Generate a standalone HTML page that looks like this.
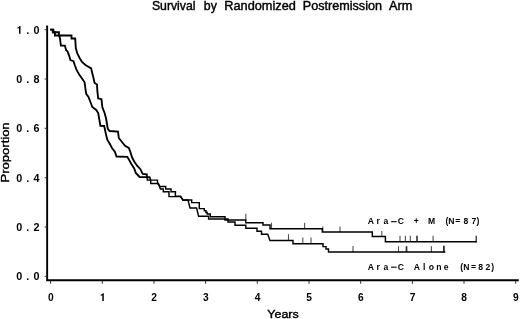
<!DOCTYPE html>
<html><head><meta charset="utf-8"><title>Survival by Randomized Postremission Arm</title>
<style>html,body{margin:0;padding:0;background:#fff;}svg{display:block;}text{font-family:"Liberation Sans",sans-serif;fill:#000;}</style></head><body>
<svg width="520" height="319" viewBox="0 0 520 319" style="will-change:transform">
<rect width="520" height="319" fill="#fff"/>
<text x="151.9" y="9.5" font-size="12.2" textLength="43.6" lengthAdjust="spacingAndGlyphs" stroke="#000" stroke-width="0.4">Survival</text>
<text x="203.8" y="9.5" font-size="12.2" textLength="13.0" lengthAdjust="spacingAndGlyphs" stroke="#000" stroke-width="0.4">by</text>
<text x="224.3" y="9.5" font-size="12.2" textLength="71.6" lengthAdjust="spacingAndGlyphs" stroke="#000" stroke-width="0.4">Randomized</text>
<text x="302.8" y="9.5" font-size="12.2" textLength="79.2" lengthAdjust="spacingAndGlyphs" stroke="#000" stroke-width="0.4">Postremission</text>
<text x="389.1" y="9.5" font-size="12.2" textLength="23.4" lengthAdjust="spacingAndGlyphs" stroke="#000" stroke-width="0.4">Arm</text>
<text transform="translate(8.8,182.4) rotate(-90)" font-size="11.8" textLength="60" lengthAdjust="spacingAndGlyphs" stroke="#000" stroke-width="0.4">Proportion</text>
<text x="267.3" y="317.5" font-size="11.8" textLength="31.4" lengthAdjust="spacingAndGlyphs" stroke="#000" stroke-width="0.4">Years</text>
<path d="M47.15 25.5 V280.3 H518.8" fill="none" stroke="#000" stroke-width="1.9" stroke-linejoin="miter"/>
<path d="M44.6 276.3 H46.4" stroke="#333" stroke-width="1"/>
<text x="19.2 27.7 36.5" y="280.3" font-size="10.8" font-weight="bold" text-anchor="middle">0.0</text>
<path d="M44.6 227.0 H46.4" stroke="#333" stroke-width="1"/>
<text x="19.2 27.7 36.5" y="231.0" font-size="10.8" font-weight="bold" text-anchor="middle">0.2</text>
<path d="M44.6 177.7 H46.4" stroke="#333" stroke-width="1"/>
<text x="19.2 27.7 36.5" y="181.7" font-size="10.8" font-weight="bold" text-anchor="middle">0.4</text>
<path d="M44.6 128.3 H46.4" stroke="#333" stroke-width="1"/>
<text x="19.2 27.7 36.5" y="132.3" font-size="10.8" font-weight="bold" text-anchor="middle">0.6</text>
<path d="M44.6 79.0 H46.4" stroke="#333" stroke-width="1"/>
<text x="19.2 27.7 36.5" y="83.0" font-size="10.8" font-weight="bold" text-anchor="middle">0.8</text>
<path d="M44.6 29.7 H46.4" stroke="#333" stroke-width="1"/>
<path d="M20.50 33.70 H19.00 V27.95 L17.50 28.65 V27.50 Q18.70 27.05 19.45 25.95 H20.50 Z" fill="#000"/>
<text x="27.7 36.5" y="33.7" font-size="10.8" font-weight="bold" text-anchor="middle">.0</text>
<path d="M50.6 281 V283.8" stroke="#333" stroke-width="1"/>
<text x="50.8" y="300.9" font-size="10.2" font-weight="bold" text-anchor="middle">0</text>
<path d="M102.3 281 V283.8" stroke="#333" stroke-width="1"/>
<path d="M103.80 300.90 H102.30 V295.30 L100.80 296.00 V294.85 Q102.00 294.40 102.75 293.30 H103.80 Z" fill="#000"/>
<path d="M154.0 281 V283.8" stroke="#333" stroke-width="1"/>
<text x="154.2" y="300.9" font-size="10.2" font-weight="bold" text-anchor="middle">2</text>
<path d="M205.6 281 V283.8" stroke="#333" stroke-width="1"/>
<text x="205.8" y="300.9" font-size="10.2" font-weight="bold" text-anchor="middle">3</text>
<path d="M257.3 281 V283.8" stroke="#333" stroke-width="1"/>
<text x="257.5" y="300.9" font-size="10.2" font-weight="bold" text-anchor="middle">4</text>
<path d="M309.0 281 V283.8" stroke="#333" stroke-width="1"/>
<text x="309.2" y="300.9" font-size="10.2" font-weight="bold" text-anchor="middle">5</text>
<path d="M360.7 281 V283.8" stroke="#333" stroke-width="1"/>
<text x="360.9" y="300.9" font-size="10.2" font-weight="bold" text-anchor="middle">6</text>
<path d="M412.4 281 V283.8" stroke="#333" stroke-width="1"/>
<text x="412.6" y="300.9" font-size="10.2" font-weight="bold" text-anchor="middle">7</text>
<path d="M464.0 281 V283.8" stroke="#333" stroke-width="1"/>
<text x="464.2" y="300.9" font-size="10.2" font-weight="bold" text-anchor="middle">8</text>
<path d="M515.7 281 V283.8" stroke="#333" stroke-width="1"/>
<text x="515.9" y="300.9" font-size="10.2" font-weight="bold" text-anchor="middle">9</text>
<path d="M245.8 213.8 V219.9" stroke="#505050" stroke-width="1.1"/>
<path d="M271.5 222.7 V228.8" stroke="#505050" stroke-width="1.1"/>
<path d="M304.6 222.7 V228.8" stroke="#505050" stroke-width="1.1"/>
<path d="M322.8 226.5 V232.0" stroke="#505050" stroke-width="1.1"/>
<path d="M340.0 226.5 V232.0" stroke="#505050" stroke-width="1.1"/>
<path d="M381.8 231.0 V236.5" stroke="#505050" stroke-width="1.1"/>
<path d="M400.0 235.8 V241.6" stroke="#505050" stroke-width="1.1"/>
<path d="M405.4 235.8 V241.6" stroke="#505050" stroke-width="1.1"/>
<path d="M410.3 235.8 V241.6" stroke="#505050" stroke-width="1.1"/>
<path d="M417.0 235.8 V241.6" stroke="#303030" stroke-width="1.6"/>
<path d="M433.1 235.8 V241.6" stroke="#505050" stroke-width="1.1"/>
<path d="M476.2 235.8 V242.4" stroke="#303030" stroke-width="1.3"/>
<path d="M288.5 234.2 V240.4" stroke="#505050" stroke-width="1.1"/>
<path d="M302.8 237.6 V243.4" stroke="#505050" stroke-width="1.1"/>
<path d="M311.0 237.6 V243.4" stroke="#505050" stroke-width="1.1"/>
<path d="M353.0 245.9 V251.9" stroke="#505050" stroke-width="1.1"/>
<path d="M398.5 246.2 V251.9" stroke="#505050" stroke-width="1.1"/>
<path d="M406.5 246.2 V251.9" stroke="#303030" stroke-width="1.7"/>
<path d="M431.4 246.2 V251.9" stroke="#505050" stroke-width="1.1"/>
<path d="M443.9 245.8 V252.6" stroke="#303030" stroke-width="1.8"/>
<path d="M50.2 29.6L53.4 29.6L53.4 32.2L58.9 32.2L58.9 35.5L71.5 35.5L71.5 38.5L75.2 38.5L75.8 48.0L77.3 53.5L79.6 58.0L82.0 62.0L85.8 65.3L91.2 68.4L91.5 70.0L93.0 76.0L94.6 83.0L97.0 84.6L97.4 91.5L98.2 98.5L101.5 99.2L102.3 107.0L104.6 113.0L106.2 119.0L107.8 128.8L109.6 131.0L118.0 131.6L118.8 138.0L122.0 142.0L125.0 145.8L128.8 148.0L130.4 152.0L132.0 157.3L134.2 161.5L137.3 166.0L140.4 169.2L142.7 173.8L146.8 174.3L146.8 177.2L150.2 177.2" fill="none" stroke="#000" stroke-width="1.85" stroke-linejoin="miter"/>
<path d="M150.2 177.2L150.2 180.1L157.5 180.1L157.5 183.5L160.0 186.4L165.7 186.4L165.7 188.9L171.0 188.9L171.0 191.8L175.4 191.8L175.4 196.2L180.5 196.2L183.0 200.0L191.7 200.0L191.7 202.6L199.3 202.6L199.3 208.6L204.3 208.6L204.3 210.8L206.0 210.8L206.0 212.5L207.2 212.5L207.2 214.0L210.3 214.0L210.3 216.7L225.0 216.7L225.0 219.9L245.8 219.9L245.8 222.7L263.0 222.7L263.0 225.0L270.0 225.0L270.0 228.8L322.3 228.8L322.3 232.0L372.3 232.0L372.3 236.5L385.4 236.5L385.4 241.7L476.6 241.7" fill="none" stroke="#000" stroke-width="1.45" stroke-linejoin="miter"/>
<path d="M50.2 29.6L52.8 29.6L52.8 32.2L54.9 32.2L54.9 35.5L59.4 35.5L60.0 38.5L60.9 45.6L64.9 45.6L66.2 50.5L67.4 51.2L68.7 54.6L69.6 57.0L70.4 60.0L73.5 61.2L75.0 65.8L76.5 69.6L79.2 74.6L81.5 77.7L84.6 82.3L85.4 88.5L86.2 93.8L88.5 97.0L90.8 103.0L92.3 107.0L96.2 110.0L98.2 113.0L99.2 119.0L99.6 121.0L100.4 125.8L104.2 126.0L105.8 133.5L107.3 139.6L109.6 143.5L112.0 148.0L115.0 152.0L116.5 156.5L127.3 156.8L128.8 159.4L131.2 163.8L134.2 168.5L135.8 173.0L139.6 177.0L147.3 177.2" fill="none" stroke="#000" stroke-width="1.85" stroke-linejoin="miter"/>
<path d="M147.3 177.2L147.3 180.1L150.7 180.1L150.7 183.5L158.5 183.5L160.4 188.9L163.3 188.9L163.3 191.8L169.0 191.8L169.0 196.6L180.5 196.6L183.0 200.2L188.0 200.0L190.0 208.0L196.6 208.0L198.6 216.2L208.6 216.2L208.6 219.0L228.0 219.0L228.0 222.0L235.0 222.0L235.0 225.3L245.8 225.3L245.8 228.2L257.0 228.2L257.0 231.2L261.5 231.2L261.5 234.2L267.7 234.2L270.0 240.4L293.0 240.4L293.0 243.7L323.0 243.7L323.0 246.6L326.0 246.6L326.0 249.0L328.5 249.0L328.5 251.9L445.3 251.9" fill="none" stroke="#000" stroke-width="1.45" stroke-linejoin="miter"/>
<text transform="scale(1.05,1)" x="353.14 360.29 367.43 381.71 396.38 411.05 425.71 429.81 436.00 443.81 451.33 455.24" y="224.1" font-size="8.2" font-weight="bold" text-anchor="middle">AraC+M(N=87)</text>
<path d="M391.1 221.7 H396.7" stroke="#000" stroke-width="1.1"/>
<text transform="scale(1.05,1)" x="353.14 360.29 367.43 381.71 396.95 404.00 410.95 417.90 424.95 439.81 444.19 451.05 457.71 464.67 469.24" y="269.6" font-size="8.2" font-weight="bold" text-anchor="middle">AraCAlone(N=82)</text>
<path d="M391.1 267.2 H396.7" stroke="#000" stroke-width="1.1"/>
</svg></body></html>
